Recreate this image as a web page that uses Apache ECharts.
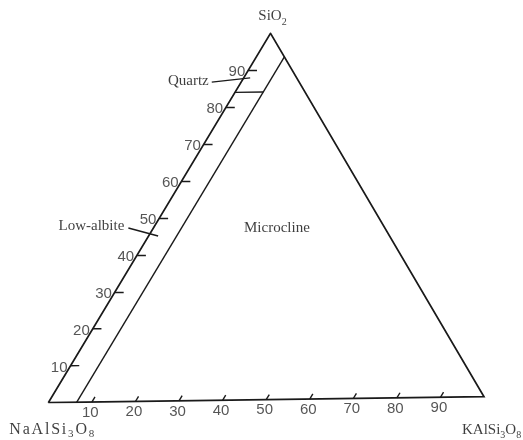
<!DOCTYPE html>
<html>
<head>
<meta charset="utf-8">
<script src="https://cdn.jsdelivr.net/npm/echarts@6/dist/echarts.min.js"></script>
<style>
  html, body { margin: 0; padding: 0; background: #fff; }
  #chart { width: 523px; height: 440px; }
</style>
</head>
<body>
<div id="chart"></div>
<script>
// Ternary system SiO2 – NaAlSi3O8 – KAlSi3O8.
// Every composition is written as [SiO2 %, KAlSi3O8 %]; NaAlSi3O8 is the remainder.
const vertexSiO2 = [100, 0];
const vertexAlbite = [0, 0];
const vertexOrthoclase = [0, 100];

const tickValues = [10, 20, 30, 40, 50, 60, 70, 80, 90];

// Low-albite / microcline boundary: constant KAlSi3O8 content
const feldsparBoundaryOr = 6.5;
// Upper limit of the feldspar fields (quartz field above)
const quartzBoundarySiO2 = 84;

// Field names with the composition they are written at
const fieldMicrocline = [47, 28.5];
// Leader lines from field names into the narrow fields
const quartzLeader = [[86.9, -6.8], [87.9, 1.5]];
const albiteLeader = [[47.4, -5.8], [45.1, 2.2]];

// Tick mark lengths, in composition units
const sideTickLen = 2;
const baseTickLen = 1.4;

// Projection of a composition onto the plotting plane
// (the sheet is slightly sheared, so the base is not perfectly level)
function tern(si, or) {
  return [or + 0.51 * si, si + 0.0162 * or];
}
function seg(a, b) {
  return { coords: [tern(a[0], a[1]), tern(b[0], b[1])] };
}

const ink = '#1a1a1a';
const serif = "'Liberation Serif', 'DejaVu Serif', serif";
const sans = "'Liberation Sans', Arial, sans-serif";

const outline = [{
  coords: [vertexAlbite, vertexOrthoclase, vertexSiO2, vertexAlbite].map(p => tern(p[0], p[1]))
}];

const boundaries = [
  seg([0, feldsparBoundaryOr], [100 - feldsparBoundaryOr, feldsparBoundaryOr]),
  seg([quartzBoundarySiO2, 0], [quartzBoundarySiO2, feldsparBoundaryOr]),
  seg(quartzLeader[0], quartzLeader[1]),
  seg(albiteLeader[0], albiteLeader[1])
];

const ticks = [];
tickValues.forEach(v => {
  ticks.push(seg([v, 0], [v, sideTickLen]));          // SiO2 side
  ticks.push(seg([0, v], [baseTickLen, v]));          // base (KAlSi3O8)
});

// Chemical formulae: main text plus lowered subscripts
const formulaRich = {
  m: { fontFamily: serif, fontSize: 15, color: '#0d0d0d', lineHeight: 20 },
  s: { fontFamily: serif, fontSize: 10, color: '#0d0d0d', verticalAlign: 'bottom', padding: [0, 0, -1, 0] },
  // the albite end-member is set slightly larger and spaced
  cm: { fontFamily: serif, fontSize: 16, color: '#0d0d0d', lineHeight: 20, padding: [0, 1.8, 0, 0] },
  cs: { fontFamily: serif, fontSize: 11, color: '#0d0d0d', verticalAlign: 'bottom', padding: [0, 1.8, 0, 0] }
};
function spaced(parts) {
  return parts.map(([style, text]) =>
    text.split('').map(ch => '{' + style + '|' + ch + '}').join('')).join('');
}

const nameStyle = { fontFamily: serif, fontSize: 15, color: '#0d0d0d' };

function textPoint(pos, text, label) {
  return {
    value: tern(pos[0], pos[1]),
    label: Object.assign({ show: true, formatter: text }, label)
  };
}

const names = [
  textPoint(vertexSiO2, '{m|SiO}{s|2}', { position: 'top', distance: 7, offset: [2, 0], rich: formulaRich }),
  textPoint(vertexAlbite, spaced([['cm', 'NaAlSi'], ['cs', '3'], ['cm', 'O'], ['cs', '8']]),
    { position: 'bottom', align: 'left', distance: 17, offset: [-39, 0], rich: formulaRich }),
  textPoint(vertexOrthoclase, '{m|KAlSi}{s|3}{m|O}{s|8}',
    { position: 'bottom', align: 'left', distance: 23, offset: [-22, 0], rich: formulaRich }),
  textPoint(quartzLeader[0], 'Quartz', Object.assign({ position: 'left', distance: 3, offset: [0, -1] }, nameStyle)),
  textPoint(albiteLeader[0], 'Low-albite', Object.assign({ position: 'left', distance: 4, offset: [0, -2] }, nameStyle)),
  textPoint(fieldMicrocline, 'Microcline', Object.assign({ position: 'inside', offset: [0, 1] }, nameStyle))
];

const tickLabelStyle = { fontFamily: sans, fontSize: 15, color: '#2a2a2a' };
const sideLabels = tickValues.map(v => textPoint([v, 0], String(v),
  Object.assign({ position: 'left', distance: 3, offset: [0, 2] }, tickLabelStyle)));
const baseLabels = tickValues.map(v => textPoint([0, v], String(v),
  Object.assign({ position: 'bottom', distance: 3, offset: [-1.5, 0] }, tickLabelStyle)));

const chart = echarts.init(document.getElementById('chart'), null, { renderer: 'canvas' });
chart.setOption({
  backgroundColor: '#fff',
  animation: false,
  grid: { left: 48.3, top: 33.3, width: 435.7, height: 369.4 },
  xAxis: { type: 'value', min: 0, max: 100, show: false },
  yAxis: { type: 'value', min: 0, max: 100, show: false },
  series: [
    {
      type: 'lines', coordinateSystem: 'cartesian2d', polyline: true, silent: true,
      lineStyle: { color: ink, width: 1.7, opacity: 1 }, data: outline
    },
    {
      type: 'lines', coordinateSystem: 'cartesian2d', silent: true,
      lineStyle: { color: ink, width: 1.4, opacity: 1 }, data: boundaries.concat(ticks)
    },
    {
      type: 'scatter', symbolSize: 0, silent: true, data: names.concat(sideLabels, baseLabels)
    }
  ]
});
</script>
</body>
</html>
